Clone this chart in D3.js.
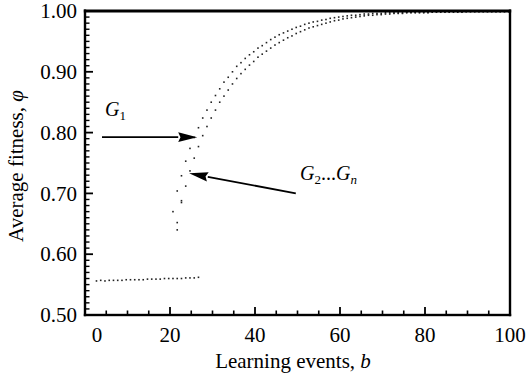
<!DOCTYPE html>
<html>
<head>
<meta charset="utf-8">
<script src="https://cdn.jsdelivr.net/npm/d3@7"></script>
<style>
  html, body { margin: 0; padding: 0; background: #fff; }
  svg { display: block; font-family: "Liberation Serif", "Times New Roman", serif; }
</style>
</head>
<body>
<svg id="chart" width="526" height="375"></svg>
<script>
// ---- data ----
const xTicksMajor = [0, 20, 40, 60, 80, 100];
const xTicksMinor = [5, 10, 15, 25, 30, 35, 45, 50, 55, 65, 70, 75, 85, 90, 95];
const yTicksMajor = [0.50, 0.60, 0.70, 0.80, 0.90, 1.00];
const yTickLabels = ["0.50", "0.60", "0.70", "0.80", "0.90", "1.00"];
const yTicksMinor = [0.51, 0.52, 0.53, 0.54, 0.55, 0.56, 0.57, 0.58, 0.59,
  0.61, 0.62, 0.63, 0.64, 0.65, 0.66, 0.67, 0.68, 0.69,
  0.71, 0.72, 0.73, 0.74, 0.75, 0.76, 0.77, 0.78, 0.79,
  0.81, 0.82, 0.83, 0.84, 0.85, 0.86, 0.87, 0.88, 0.89,
  0.91, 0.92, 0.93, 0.94, 0.95, 0.96, 0.97, 0.98, 0.99];

// initial (pre-learning) plateau
const bBase = [2.7, 3.7, 4.7, 5.7, 6.7, 7.7, 8.7, 9.7, 10.7, 11.7, 12.7, 13.7, 14.7,
  15.7, 16.7, 17.7, 18.7, 19.7, 20.7, 21.7, 22.7, 23.7, 24.7, 25.7, 26.7];
const phiBase = [0.556, 0.557, 0.556, 0.557, 0.557, 0.557, 0.557, 0.558, 0.558, 0.558,
  0.558, 0.558, 0.559, 0.559, 0.559, 0.559, 0.560, 0.560, 0.560, 0.560, 0.560, 0.561,
  0.561, 0.561, 0.562];

// G1 curve (upper)
const bUpper = [20.7, 21.7, 22.7, 23.7, 24.7, 25.7, 26.7, 27.7, 28.7, 29.7, 30.7, 31.7,
  32.7, 33.7, 34.7, 35.7, 36.7, 37.7, 38.7, 39.7, 40.7, 41.7, 42.7, 43.7, 44.7, 45.7,
  46.7, 47.7, 48.7, 49.7, 50.7, 51.7, 52.7, 53.7, 54.7, 55.7, 56.7, 57.7, 58.7, 59.7,
  60.7, 61.7, 62.7, 63.7, 64.7, 65.7, 66.7, 67.7, 68.7, 69.7, 70.7, 71.7, 72.7, 73.7,
  74.7, 75.7, 76.7, 77.7, 78.7, 79.7, 80.7, 81.7, 82.7, 83.7, 84.7, 85.7, 86.7, 87.7,
  88.7, 89.7, 90.7, 91.7, 92.7, 93.7, 94.7, 95.7, 96.7, 97.7, 98.7, 99.7];
const phiUpper = [0.670, 0.704, 0.729, 0.753, 0.774, 0.792, 0.808, 0.824, 0.837, 0.850,
  0.861, 0.872, 0.883, 0.891, 0.900, 0.909, 0.915, 0.922, 0.928, 0.933, 0.939, 0.943,
  0.948, 0.953, 0.957, 0.961, 0.964, 0.967, 0.970, 0.973, 0.975, 0.978, 0.980, 0.982,
  0.983, 0.985, 0.986, 0.988, 0.989, 0.990, 0.991, 0.992, 0.993, 0.993, 0.994, 0.995,
  0.995, 0.996, 0.996, 0.996, 0.997, 0.997, 0.997, 0.997, 0.997, 0.998, 0.998, 0.998,
  0.998, 0.998, 0.998, 0.999, 0.999, 0.999, 0.999, 0.999, 0.999, 0.999, 0.999, 0.999,
  0.999, 0.999, 0.999, 0.999, 0.999, 0.999, 0.999, 0.999, 0.999, 0.999];

// G2...Gn curve (lower)
const bLower = [21.7, 21.7, 22.7, 22.7, 23.7, 24.7, 25.7, 26.7, 27.7, 28.7, 29.7, 30.7,
  31.7, 32.7, 33.7, 34.7, 35.7, 36.7, 37.7, 38.7, 39.7, 40.7, 41.7, 42.7, 43.7, 44.7,
  45.7, 46.7, 47.7, 48.7, 49.7, 50.7, 51.7, 52.7, 53.7, 54.7, 55.7, 56.7, 57.7, 58.7,
  59.7, 60.7, 61.7, 62.7, 63.7, 64.7, 65.7, 66.7, 67.7, 68.7, 69.7, 70.7, 71.7, 72.7,
  73.7, 74.7, 75.7, 76.7, 77.7, 78.7, 79.7, 80.7, 81.7, 82.7, 83.7, 84.7, 85.7, 86.7,
  87.7, 88.7, 89.7, 90.7, 91.7, 92.7, 93.7, 94.7, 95.7, 96.7, 97.7, 98.7, 99.7];
const phiLower = [0.640, 0.652, 0.685, 0.688, 0.712, 0.737, 0.758, 0.777, 0.795, 0.810,
  0.824, 0.837, 0.850, 0.860, 0.870, 0.880, 0.889, 0.897, 0.904, 0.911, 0.917, 0.924,
  0.929, 0.934, 0.939, 0.944, 0.948, 0.952, 0.956, 0.959, 0.963, 0.966, 0.969, 0.972,
  0.974, 0.976, 0.978, 0.980, 0.982, 0.984, 0.985, 0.987, 0.988, 0.989, 0.990, 0.991,
  0.992, 0.993, 0.993, 0.994, 0.994, 0.995, 0.995, 0.996, 0.996, 0.996, 0.997, 0.997,
  0.997, 0.997, 0.997, 0.997, 0.998, 0.998, 0.998, 0.998, 0.998, 0.998, 0.998, 0.998,
  0.999, 0.999, 0.999, 0.999, 0.999, 0.999, 0.999, 0.999, 0.999, 0.999, 0.999];

// annotation anchor points (data coordinates)
const g1Label = { b: 4.7, phi: 0.828 };
const g1ArrowFrom = { b: 4.0, phi: 0.7925 };
const g1ArrowTo = { b: 26.4, phi: 0.7925 };
const gnLabel = { b: 50.6, phi: 0.7215 };
const gnArrowFrom = { b: 49.6, phi: 0.70 };
const gnArrowTo = { b: 24.5, phi: 0.733 };

// ---- layout ----
const svg = d3.select("#chart");
const mLeft = 85, mRight = 510, mTop = 11, mBottom = 315;
const xs = d3.scaleLinear().domain([0, 100]).range([mLeft, mRight]);
const ys = d3.scaleLinear().domain([0.5, 1.0]).range([mBottom, mTop]);
const fontSize = "21px";
const serif = "Liberation Serif";

// dots
function dots(bs, ps) {
  svg.append("g").selectAll("rect")
    .data(bs.map((b, i) => [b, ps[i]]))
    .join("rect")
    .attr("x", d => xs(d[0]) - 0.8).attr("y", d => ys(d[1]) - 0.8)
    .attr("width", 1.6).attr("height", 1.6).attr("fill", "#222");
}
dots(bBase, phiBase);
dots(bUpper, phiUpper);
dots(bLower, phiLower);

// arrows
function arrow(from, to) {
  const x1 = xs(from.b), y1 = ys(from.phi), x2 = xs(to.b), y2 = ys(to.phi);
  const ang = Math.atan2(y2 - y1, x2 - x1);
  const len = 19, hw = 4.8;
  const bx = x2 - len * Math.cos(ang), by = y2 - len * Math.sin(ang);
  svg.append("line").attr("x1", x1).attr("y1", y1).attr("x2", bx).attr("y2", by)
    .attr("stroke", "#000").attr("stroke-width", 1.8);
  const px = -Math.sin(ang) * hw, py = Math.cos(ang) * hw;
  svg.append("path")
    .attr("d", `M${x2},${y2}L${bx + px},${by + py}L${bx + len * 0.12 * Math.cos(ang)},${by + len * 0.12 * Math.sin(ang)}L${bx - px},${by - py}Z`)
    .attr("fill", "#000");
}
arrow(g1ArrowFrom, g1ArrowTo);
arrow(gnArrowFrom, gnArrowTo);

// tick labels
svg.append("g").selectAll("text").data(yTicksMajor).join("text")
  .attr("x", mLeft - 8).attr("y", d => ys(d)).attr("dy", "0.34em")
  .attr("text-anchor", "end").attr("font-family", serif).attr("font-size", fontSize)
  .text((d, i) => yTickLabels[i]);
svg.append("g").selectAll("text").data(xTicksMajor).join("text")
  .attr("x", d => xs(d) + (d === 0 ? 12 : 0)).attr("y", 342)
  .attr("text-anchor", "middle").attr("font-family", serif).attr("font-size", fontSize)
  .text(d => d);

// annotation labels
const t1 = svg.append("text").attr("x", xs(g1Label.b)).attr("y", ys(g1Label.phi))
  .attr("font-family", serif).attr("font-size", "20px").attr("font-style", "italic");
t1.append("tspan").text("G");
t1.append("tspan").attr("font-size", "13px").attr("font-style", "normal").attr("dy", 4).text("1");

const t2 = svg.append("text").attr("x", xs(gnLabel.b)).attr("y", ys(gnLabel.phi))
  .attr("font-family", serif).attr("font-size", "20px").attr("font-style", "italic");
t2.append("tspan").text("G");
t2.append("tspan").attr("font-size", "13px").attr("font-style", "normal").attr("dy", 4).text("2");
t2.append("tspan").attr("dy", -4).attr("font-style", "normal").text("...");
t2.append("tspan").text("G");
t2.append("tspan").attr("font-size", "13px").attr("dy", 4).text("n");

// axis titles
const xt = svg.append("text").attr("x", 293).attr("y", 368).attr("text-anchor", "middle")
  .attr("font-family", serif).attr("font-size", fontSize);
xt.append("tspan").text("Learning events, ");
xt.append("tspan").attr("font-style", "italic").text("b");

const yt = svg.append("text").attr("transform", "translate(23,166) rotate(-90)")
  .attr("text-anchor", "middle").attr("font-family", serif).attr("font-size", fontSize);
yt.append("tspan").text("Average fitness, ");
yt.append("tspan").attr("font-style", "italic").text("φ");

// ticks (inward), drawn as filled bars on top of everything
const axisG = svg.append("g").attr("fill", "#000");
axisG.selectAll("rect.ymin").data(yTicksMinor).join("rect").attr("class", "ymin")
  .attr("x", mLeft).attr("width", 4.5).attr("y", d => ys(d) - 0.7).attr("height", 1.4);
axisG.selectAll("rect.ymaj").data(yTicksMajor).join("rect").attr("class", "ymaj")
  .attr("x", mLeft).attr("width", 8).attr("y", d => ys(d) - 0.9).attr("height", 1.8);
axisG.selectAll("rect.xmin").data(xTicksMinor).join("rect").attr("class", "xmin")
  .attr("x", d => xs(d) - 0.8).attr("width", 1.6).attr("y", mBottom - 4.5).attr("height", 4.5);
axisG.selectAll("rect.xmaj").data(xTicksMajor).join("rect").attr("class", "xmaj")
  .attr("x", d => xs(d) - 0.9).attr("width", 1.8).attr("y", mBottom - 8).attr("height", 8);

// frame as filled bars
axisG.append("rect").attr("x", mLeft - 1.2).attr("y", mTop - 1.5).attr("width", 2.4).attr("height", mBottom - mTop + 2.7);
axisG.append("rect").attr("x", mRight - 1.2).attr("y", mTop - 1.5).attr("width", 2.4).attr("height", mBottom - mTop + 2.7);
axisG.append("rect").attr("x", mLeft - 1.2).attr("y", mBottom - 1.2).attr("width", mRight - mLeft + 2.4).attr("height", 2.4);
axisG.append("rect").attr("x", mLeft - 1.2).attr("y", mTop - 1.5).attr("width", mRight - mLeft + 2.4).attr("height", 3);
</script>
</body>
</html>
